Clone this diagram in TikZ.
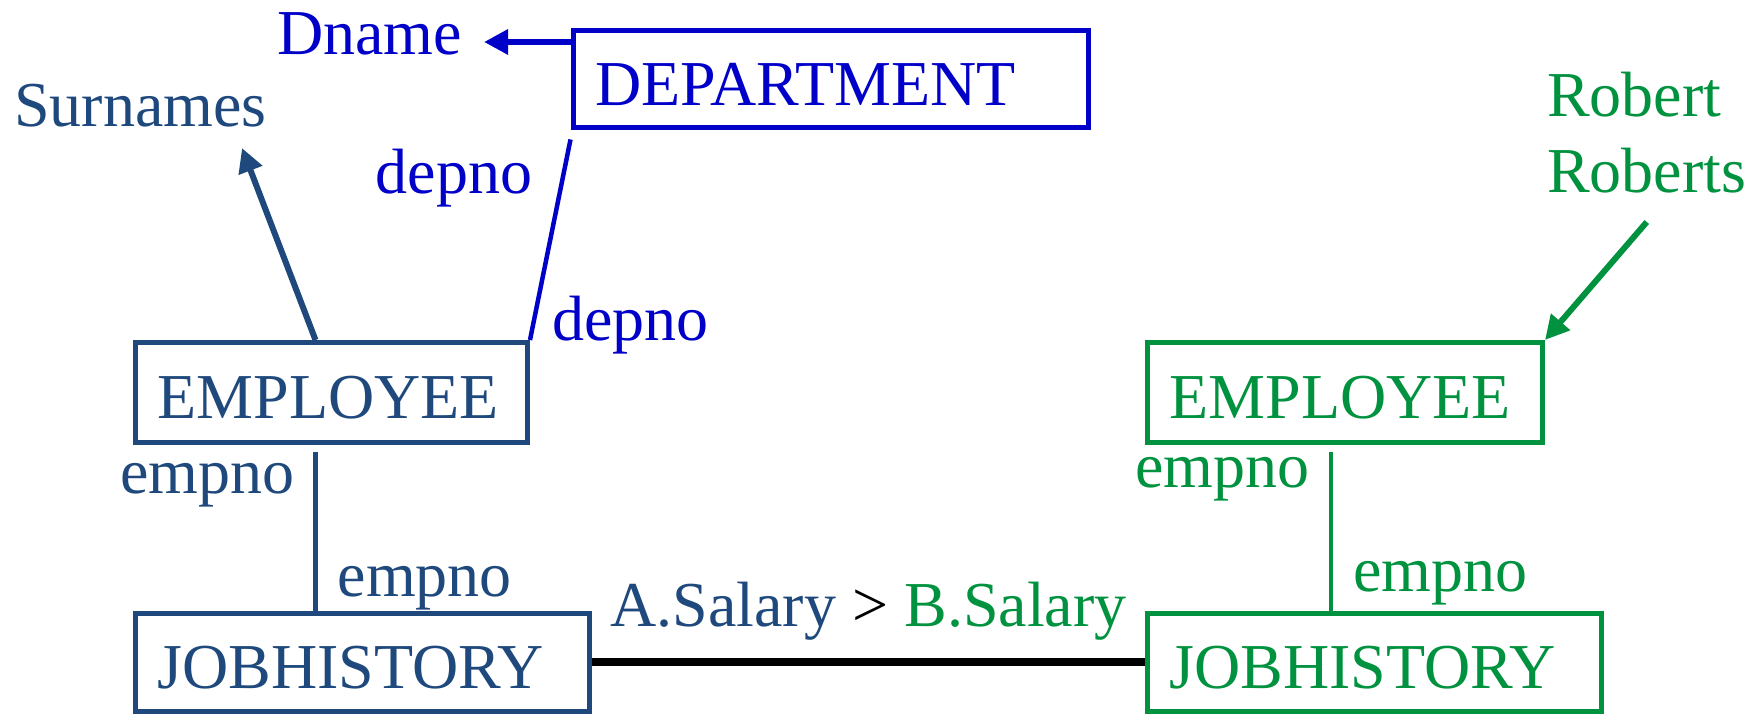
\documentclass[tikz,border=0pt]{standalone}
\usepackage{fontspec}
\setmainfont{Liberation Serif}
\usetikzlibrary{arrows.meta}

\definecolor{deptblue}{RGB}{0,0,200}
\definecolor{tupleblue}{RGB}{31,73,125}
\definecolor{tuplegreen}{RGB}{0,146,63}

\begin{document}
\begin{tikzpicture}[x=1pt, y=-1pt,
        % styles
        every node/.style = {
                font=\fontsize{64}{76}\selectfont
            },
        relbox/.style = {
                rectangle, draw, line width=5pt,
                inner xsep=22pt, align=left,
                text height=52pt, text depth=0pt
            }, %
        attr/.style = {
                inner sep=0pt
            },
        link/.style = {
                line width=4.5pt
            },
        arrow/.style = {
                line width=6pt, -{Triangle[length=24pt,width=24pt]}
            }]

    \useasboundingbox (0,0) rectangle (1758,714);

    % relations
    \node (dept) [relbox, deptblue, text width=471pt, minimum height=97pt] at (830.5,79.5) {DEPARTMENT};
    \node (emp1) [relbox, tupleblue, text width=348pt, minimum height=100pt] at (331.5,392.5) {EMPLOYEE};
    \node (job1) [relbox, tupleblue, text width=410pt, minimum height=98pt] at (362.5,662) {JOBHISTORY};
    \node (emp2) [relbox, tuplegreen, text width=351pt, minimum height=100pt] at (1345,392.5) {EMPLOYEE};
    \node (job2) [relbox, tuplegreen, text width=410pt, minimum height=98pt] at (1374.5,662) {JOBHISTORY};

    % outputs and constants
    \node (dname) [attr, deptblue, anchor=base west] at (277,55) {Dname};
    \node (surnames) [attr, tupleblue, anchor=base west] at (14,127) {Surnames};
    \node (robert) [attr, tuplegreen, anchor=south west, align=left] at (1547,193) {Robert\\Roberts};
    \coordinate (dnametip) at (484,42);
    \coordinate (surtip) at (242,148);

    % % arrows
    \draw [arrow, deptblue] (dept.west |- dnametip) -- (dnametip);
    \draw [arrow, tupleblue] ([xshift=-16pt]emp1.north) -- (surtip);
    \draw [arrow, tuplegreen] ([yshift=-29pt]robert.south) -- (emp2.north east);

    % % joins
    \draw [link, deptblue] (emp1.north east)
        -- node[attr, pos=0.806, anchor=east, xshift=-28pt] {depno}
           node[attr, pos=0.073, anchor=west, xshift=17pt] {depno}
        ([yshift=-9pt]dept.south west);
    \draw [link, tupleblue] ([xshift=-16pt, yshift=-7pt]emp1.south)
        -- node[attr, pos=0.21, anchor=east, xshift=-19pt] {empno}
           node[attr, pos=0.86, anchor=west, xshift=20pt] {empno}
        ([xshift=-16pt]emp1.south |- job1.north);
    \draw [link, tuplegreen] ([xshift=-14pt, yshift=-7pt]emp2.south)
        -- node[attr, pos=0.17, anchor=east, xshift=-19pt] {empno}
           node[attr, pos=0.83, anchor=west, xshift=20pt] {empno}
        ([xshift=-14pt]emp2.south |- job2.north);
    \draw [line width=8pt] (job1) -- node[attr, above=18pt] {\textcolor{tupleblue}{A.Salary} > \textcolor{tuplegreen}{B.Salary}} (job2);

\end{tikzpicture}
\end{document}
